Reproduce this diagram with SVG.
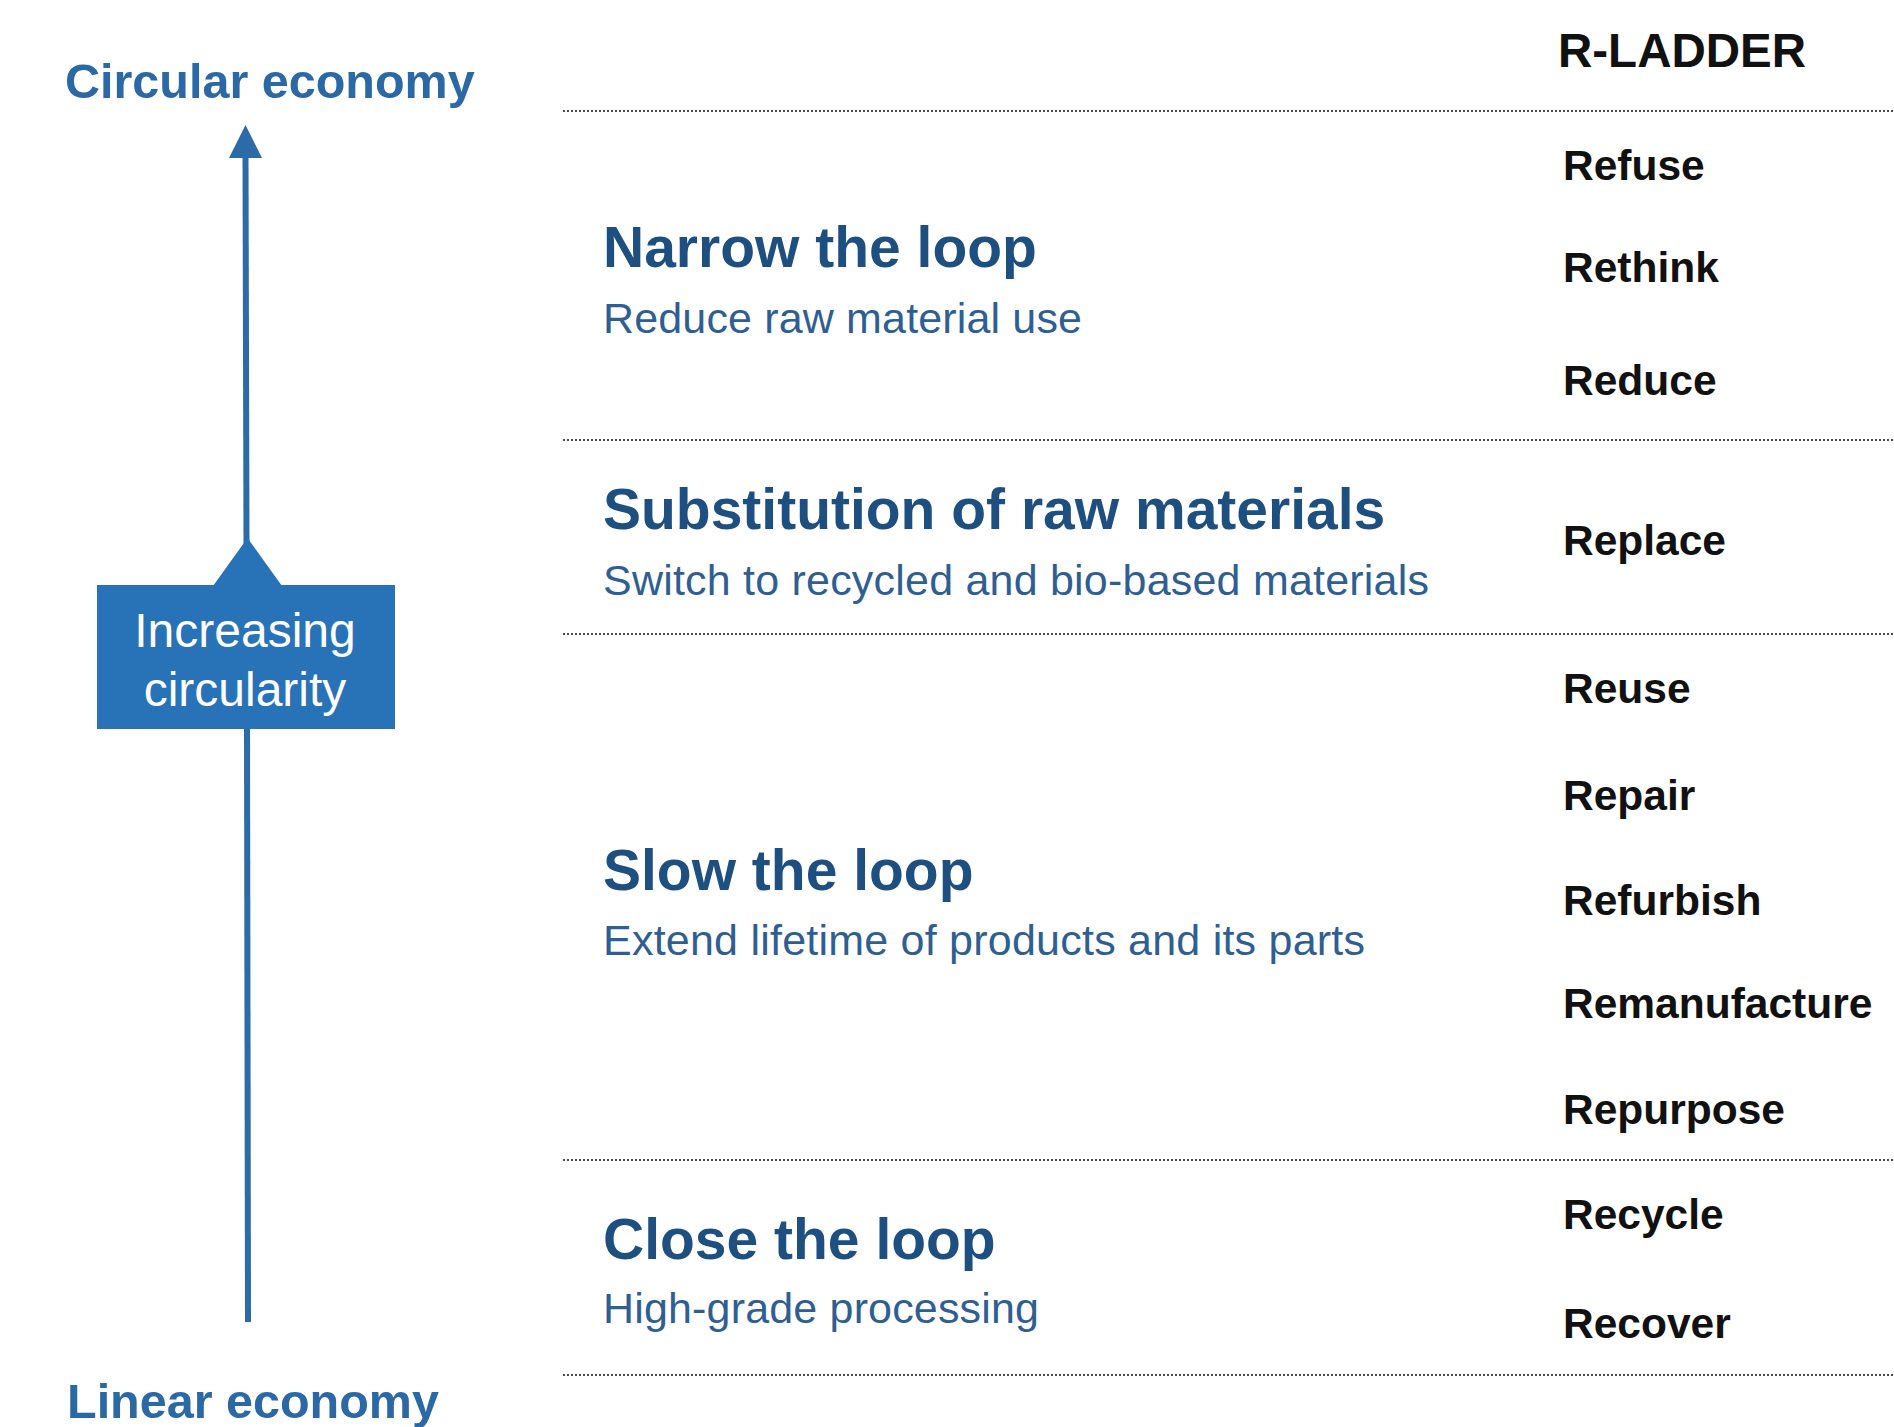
<svg xmlns="http://www.w3.org/2000/svg" width="1894" height="1427" viewBox="0 0 1894 1427">
<style>
  text { font-family: "Liberation Sans", Arial, sans-serif; }
  .eco { font-size: 48.5px; font-weight: bold; fill: #2a68a6; }
  .head { font-size: 57px; font-weight: bold; fill: #1d4f80; }
  .sub { font-size: 43px; fill: #2f5f92; }
  .r { font-size: 42.5px; font-weight: bold; fill: #111111; }
  .box { font-size: 48px; fill: #ffffff; text-anchor: middle; }
  .sep { stroke: #4a4a4a; stroke-width: 2; stroke-dasharray: 2 2; fill: none; }
  .shaft { stroke: #2c6aa8; stroke-width: 6; fill: none; }
</style>
<rect width="1894" height="1427" fill="#ffffff"/>

<g id="connectors">
  <line class="shaft" x1="245.5" y1="155" x2="246.5" y2="545"/>
  <polygon points="245.5,125 229,158 262,158" fill="#2c6aa8"/>
  <line class="shaft" x1="247" y1="725" x2="248" y2="1322"/>
</g>

<g id="separators">
  <line class="sep" x1="563" y1="111" x2="1894" y2="111"/>
  <line class="sep" x1="563" y1="440" x2="1894" y2="440"/>
  <line class="sep" x1="563" y1="634" x2="1894" y2="634"/>
  <line class="sep" x1="563" y1="1160" x2="1894" y2="1160"/>
  <line class="sep" x1="563" y1="1375" x2="1894" y2="1375"/>
</g>

<g id="circular-economy"><text class="eco" x="65" y="98">Circular economy</text></g>
<g id="linear-economy"><text class="eco" x="67" y="1418">Linear economy</text></g>

<g id="increasing-circularity">
  <polygon points="247.5,538 213,586 282,586" fill="#2872b8"/>
  <rect x="97" y="585" width="298" height="144" fill="#2872b8"/>
  <text class="box" x="245" y="647">Increasing</text>
  <text class="box" x="245" y="706">circularity</text>
</g>

<g id="r-ladder-title"><text x="1558" y="67" style="font-size:47.5px;font-weight:bold;fill:#111">R-LADDER</text></g>

<g id="narrow">
  <text class="head" x="603" y="267">Narrow the loop</text>
  <text class="sub" x="603" y="333" textLength="479" lengthAdjust="spacing">Reduce raw material use</text>
</g>
<g id="substitution">
  <text class="head" x="603" y="529">Substitution of raw materials</text>
  <text class="sub" x="603" y="595" textLength="826" lengthAdjust="spacing">Switch to recycled and bio-based materials</text>
</g>
<g id="slow">
  <text class="head" x="603" y="890">Slow the loop</text>
  <text class="sub" x="603" y="955" textLength="762" lengthAdjust="spacing">Extend lifetime of products and its parts</text>
</g>
<g id="close">
  <text class="head" x="603" y="1259">Close the loop</text>
  <text class="sub" x="603" y="1323" textLength="436" lengthAdjust="spacing">High-grade processing</text>
</g>

<g id="r-items">
  <text class="r" x="1563" y="180">Refuse</text>
  <text class="r" x="1563" y="282">Rethink</text>
  <text class="r" x="1563" y="395">Reduce</text>
  <text class="r" x="1563" y="555">Replace</text>
  <text class="r" x="1563" y="703">Reuse</text>
  <text class="r" x="1563" y="810">Repair</text>
  <text class="r" x="1563" y="915">Refurbish</text>
  <text class="r" x="1563" y="1018">Remanufacture</text>
  <text class="r" x="1563" y="1124">Repurpose</text>
  <text class="r" x="1563" y="1229">Recycle</text>
  <text class="r" x="1563" y="1338">Recover</text>
</g>
</svg>
